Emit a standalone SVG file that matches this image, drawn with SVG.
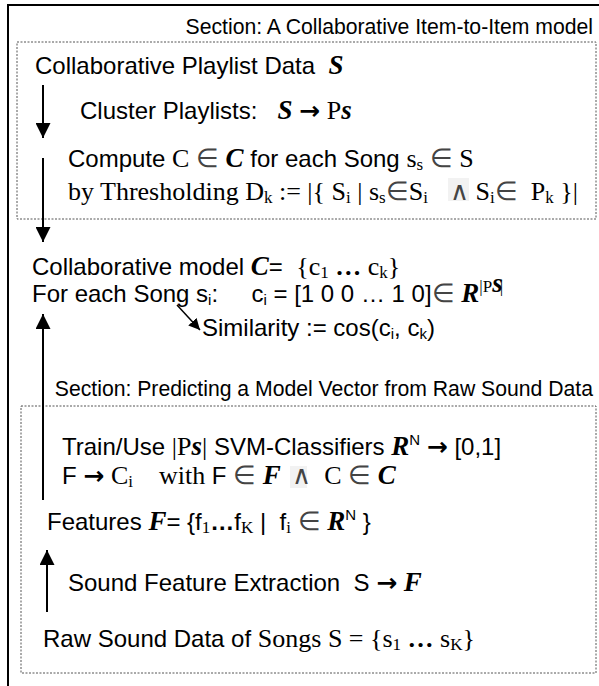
<svg xmlns="http://www.w3.org/2000/svg" width="599" height="686" viewBox="0 0 599 686">
<style>
text{fill:#000;white-space:pre;}
.a{font-family:"Liberation Sans",Arial,sans-serif;font-size:24px;}
.ttl{font-family:"Liberation Sans",Arial,sans-serif;font-size:21.2px;}
.t{font-family:"Liberation Serif","Times New Roman",serif;font-size:26px;}
.bi{font-family:"Liberation Serif","Times New Roman",serif;font-weight:bold;font-style:italic;font-size:27px;}
.ar{font-family:"DejaVu Sans",sans-serif;font-weight:bold;font-size:25px;}
.el{fill:#444;}
.sub{font-size:17px;}
.sup{font-family:"Liberation Sans",Arial,sans-serif;font-size:15px;}
.frame{fill:none;stroke:#000;stroke-width:2;}
.dash{fill:none;stroke:#555;stroke-width:1;stroke-dasharray:2,1.5;}
.conn line{stroke:#000;stroke-width:2;}
.hl{fill:#f2f2f2;}
</style>
<defs>
<marker id="ah" viewBox="0 0 10 10" refX="10" refY="5" markerWidth="7.5" markerHeight="7.5" orient="auto" markerUnits="strokeWidth">
<path d="M0,0 L10,5 L0,10 z" fill="#000"/>
</marker>
</defs>
<rect class="frame" x="8" y="5" width="600" height="700"/>
<g id="section1">
<rect class="dash" x="17" y="42" width="579" height="177"/>
<text class="ttl" x="593" y="34" text-anchor="end">Section: A Collaborative Item-to-Item model</text>
</g>
<g id="section2">
<rect class="dash" x="21" y="406" width="575" height="267"/>
<text class="ttl" x="593" y="396" text-anchor="end">Section: Predicting a Model Vector from Raw Sound Data</text>
</g>
<g id="n1"><text class="a" x="35" y="74">Collaborative Playlist Data  <tspan class="bi">S</tspan></text></g>
<g id="n2"><text class="a" x="80" y="119">Cluster Playlists:   <tspan class="bi">S</tspan> <tspan class="ar">→</tspan> <tspan class="t">P</tspan><tspan class="bi" font-size="21">s</tspan></text></g>
<g id="n3">
<rect class="hl" x="448" y="178" width="21" height="23"/>
<text class="a" x="68" y="167">Compute <tspan class="t">C </tspan><tspan class="t el">∈</tspan> <tspan class="bi">C</tspan> for each Song <tspan class="t">s</tspan><tspan class="t sub" dy="3">s</tspan><tspan class="t" dy="-3"> </tspan><tspan class="t el">∈</tspan><tspan class="t"> S</tspan></text>
<text class="t" x="68" y="200">by Thresholding D<tspan class="sub" dy="3">k</tspan><tspan dy="-3"> := |{ S</tspan><tspan class="sub" dy="3">i</tspan><tspan dy="-3"> | s</tspan><tspan class="sub" dy="3">s</tspan><tspan dy="-3" class="el">∈</tspan><tspan>S</tspan><tspan class="sub" dy="3">i</tspan><tspan dy="-3" x="450" class="el">∧</tspan><tspan> S</tspan><tspan class="sub" dy="3">i</tspan><tspan dy="-3" class="el">∈</tspan><tspan>  P</tspan><tspan class="sub" dy="3">k</tspan><tspan dy="-3"> }|</tspan></text>
</g>
<g id="n4">
<text class="a" x="32" y="275">Collaborative model <tspan class="bi">C</tspan>=  <tspan class="t">{c</tspan><tspan class="t sub" dy="3">1</tspan><tspan class="t" dy="-3"> <tspan font-weight="bold">…</tspan> c</tspan><tspan class="t sub" dy="3">k</tspan><tspan class="t" dy="-3">}</tspan></text>
<text class="a" x="32" y="302">For each Song s<tspan class="sup" dy="3">i</tspan><tspan dy="-3">:     c</tspan><tspan class="sup" dy="3">i</tspan><tspan dy="-3"> = [1 0 0 … 1 0]</tspan><tspan class="t el">∈</tspan> <tspan class="bi">R</tspan><tspan class="t sub" dy="-10">|P</tspan><tspan class="bi" font-size="17">s</tspan><tspan class="t sub" dx="-3">|</tspan></text>
</g>
<g id="n5"><text class="a" x="202" y="336">Similarity := cos(c<tspan class="sup" dy="3">i</tspan><tspan dy="-3">, c</tspan><tspan class="sup" dy="3">k</tspan><tspan dy="-3">)</tspan></text></g>
<g id="n6">
<rect class="hl" x="290" y="466" width="17" height="22"/>
<text class="a" x="62" y="455">Train/Use <tspan class="t">|P</tspan><tspan class="bi" font-size="21">s</tspan><tspan class="t">|</tspan> SVM-Classifiers <tspan class="bi">R</tspan><tspan class="sup" dy="-10">N</tspan><tspan dy="10"> </tspan><tspan class="ar">→</tspan> [0,1]</text>
<text class="a" x="62" y="484">F <tspan class="ar">→</tspan> <tspan class="t">C</tspan><tspan class="t sub" dy="3">i</tspan><tspan class="t" dy="-3">    with </tspan>F <tspan class="t el">∈</tspan> <tspan class="bi">F</tspan><tspan class="t el" x="292">∧</tspan>  <tspan class="t">C </tspan><tspan class="t el">∈</tspan> <tspan class="bi">C</tspan></text>
</g>
<g id="n7"><text class="a" x="47" y="530">Features <tspan class="bi">F</tspan>= {f<tspan class="t sub" dy="3">1</tspan><tspan dy="-3" font-weight="bold">…</tspan>f<tspan class="t sub" dy="3">K</tspan><tspan dy="-3"> |  f</tspan><tspan class="t sub" dy="3">i</tspan><tspan dy="-3"> </tspan><tspan class="t el">∈</tspan> <tspan class="bi">R</tspan><tspan class="sup" dy="-10">N</tspan><tspan dy="10"> }</tspan></text></g>
<g id="n8"><text class="a" x="68" y="591">Sound Feature Extraction  S <tspan class="ar">→</tspan> <tspan class="bi">F</tspan></text></g>
<g id="n9"><text class="a" x="43" y="647">Raw Sound Data of <tspan class="t">Songs S = {s</tspan><tspan class="t sub" dy="3">1</tspan><tspan class="t" dy="-3"> <tspan font-weight="bold">…</tspan> s</tspan><tspan class="t sub" dy="3">K</tspan><tspan class="t" dy="-3">}</tspan></text></g>
<g id="connectors" class="conn">
<line x1="43" y1="85" x2="43" y2="138" marker-end="url(#ah)"/>
<line x1="43" y1="158" x2="43" y2="242" marker-end="url(#ah)"/>
<line x1="43" y1="500" x2="43" y2="314" marker-end="url(#ah)"/>
<line x1="47" y1="612" x2="47" y2="550" marker-end="url(#ah)"/>
<line x1="177" y1="305" x2="200" y2="330" marker-end="url(#ah)" style="stroke-width:1.5"/>
</g>
</svg>
